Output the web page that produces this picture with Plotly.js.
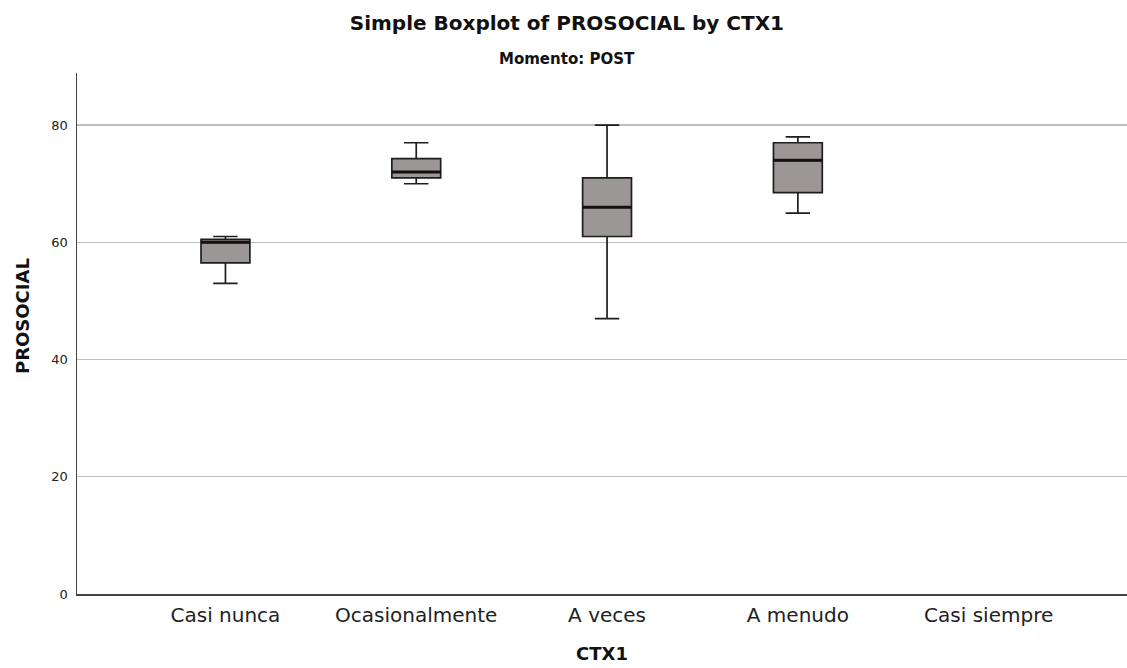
<!DOCTYPE html>
<html>
<head>
<meta charset="utf-8">
<script src="https://cdn.plot.ly/plotly-3.0.1.min.js"></script>
<style>html,body{margin:0;padding:0;background:#fff;}#chart{width:1127px;height:668px;}</style>
</head>
<body>
<div id="chart"></div>
<script>
// Categories of CTX1 (all shown on the axis)
var categories = ['Casi nunca', 'Ocasionalmente', 'A veces', 'A menudo', 'Casi siempre'];
// Categories with data
var boxCategories = ['Casi nunca', 'Ocasionalmente', 'A veces', 'A menudo'];
var lowerWhisker = [53, 70, 47, 65];
var q1Values     = [56.5, 71, 61, 68.5];
var medianValues = [60, 72, 66, 74];
var q3Values     = [60.5, 74.3, 71, 77];
var upperWhisker = [61, 77, 80, 78];
var yTicks = [0, 20, 40, 60, 80];

var FONT = 'DejaVu Sans, sans-serif';
var boxWidth = 0.256;

var trace = {
  type: 'box',
  x: boxCategories,
  lowerfence: lowerWhisker,
  q1: q1Values,
  median: medianValues,
  q3: q3Values,
  upperfence: upperWhisker,
  width: boxWidth,
  whiskerwidth: 0.5,
  fillcolor: '#9b9797',
  line: {color: '#1e1e1e', width: 1.7},
  hoverinfo: 'skip',
  showlegend: false
};

// thicker median lines, like SPSS
var shapes = medianValues.map(function (m, i) {
  var idx = categories.indexOf(boxCategories[i]);
  return {
    type: 'line', xref: 'x', yref: 'y',
    x0: idx - boxWidth / 2, x1: idx + boxWidth / 2, y0: m, y1: m,
    line: {color: '#111', width: 3}
  };
});

var layout = {
  width: 1127, height: 668,
  margin: {l: 77, r: 0, t: 73, b: 74},
  paper_bgcolor: '#fff', plot_bgcolor: '#fff',
  font: {family: FONT, color: '#222'},
  title: {
    text: '<b>Simple Boxplot of PROSOCIAL by CTX1</b>',
    font: {family: FONT, size: 20, color: '#111'},
    x: 0.503, xanchor: 'center', yref: 'container', y: 1 - 23 / 668, yanchor: 'middle'
  },
  annotations: [{
    text: '<b>Momento: POST</b>', xref: 'paper', yref: 'paper',
    x: (567 - 77) / 1050, y: (594 - 59) / 521, xanchor: 'center', yanchor: 'middle', showarrow: false,
    font: {family: FONT, size: 15, color: '#111'}
  }, {
    text: '<b>PROSOCIAL</b>', xref: 'paper', yref: 'paper', textangle: -90,
    x: (22 - 77) / 1050, y: (594 - 316) / 521, xanchor: 'center', yanchor: 'middle', showarrow: false,
    font: {family: FONT, size: 18, color: '#111'}
  }],
  xaxis: {
    type: 'category', categoryorder: 'array', categoryarray: categories,
    tickvals: categories,
    range: [-0.778, 4.725],
    showgrid: false, zeroline: false,
    showline: true, linecolor: '#444', linewidth: 1.5,
    ticks: '', ticklabelstandoff: 2,
    tickfont: {family: FONT, size: 20, color: '#222'},
    title: {text: '<b>CTX1</b>', font: {family: FONT, size: 18, color: '#111'}, standoff: 22}
  },
  yaxis: {
    range: [0, 88.9],
    tickvals: yTicks,
    showgrid: true, gridcolor: '#bdbdbd', gridwidth: 1.4,
    zeroline: false,
    showline: true, linecolor: '#444', linewidth: 1.5,
    ticks: '', ticklabelstandoff: 5,
    tickfont: {family: FONT, size: 13, color: '#222'}
  },
  shapes: shapes
};

Plotly.newPlot('chart', [trace], layout, {displayModeBar: false, staticPlot: true});
</script>
</body>
</html>
